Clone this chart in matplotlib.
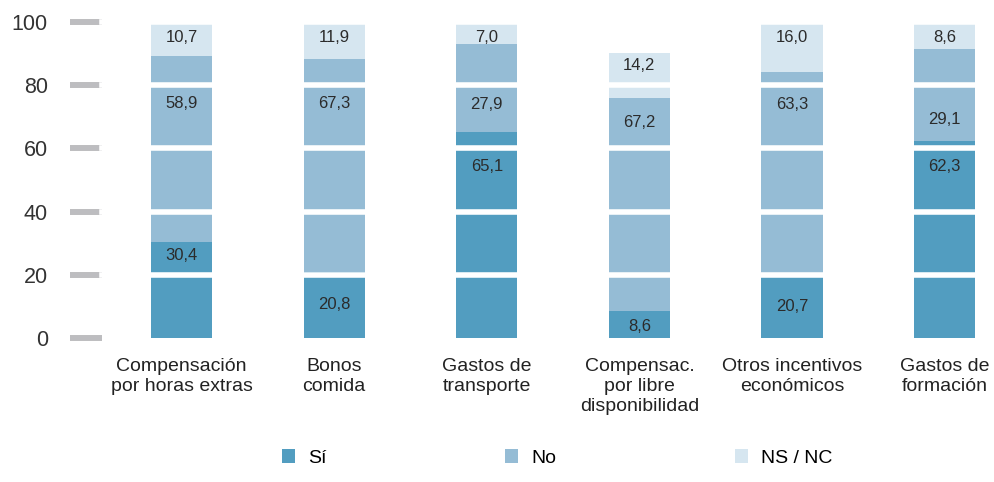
import matplotlib.pyplot as plt
import numpy as np

# Datos
categorias = ['Compensación\npor horas extras', 'Bonos\ncomida', 'Gastos de\ntransporte',
              'Compensac.\npor libre\ndisponibilidad', 'Otros incentivos\neconómicos',
              'Gastos de\nformación']
si = [30.4, 20.8, 65.1, 8.6, 20.7, 62.3]
no = [58.9, 67.3, 27.9, 67.2, 63.3, 29.1]
ns_nc = [10.7, 11.9, 7.0, 14.2, 16.0, 8.6]
series = ['Sí', 'No', 'NS / NC']

# Altura de cada etiqueta dentro de la barra
label_y = [
    [26.0, 10.8, 54.2, 3.6, 10.2, 54.2],
    [74.3, 74.3, 74.0, 68.1, 74.0, 69.2],
    [95.0, 95.0, 95.0, 86.1, 95.0, 95.0],
]

colores = ['#529dc0', '#95bcd5', '#d6e6f0']

plt.rcParams['font.family'] = ['Liberation Sans', 'DejaVu Sans']

fig = plt.figure(figsize=(9.95, 4.82), dpi=100)
ax = fig.add_axes([102 / 995, 143.7 / 482, 1 - 102 / 995, (460.3 - 143.7) / 482])

x = np.arange(len(categorias))
fondo = np.zeros(len(categorias))
for nombre, valores, color, ys in zip(series, [si, no, ns_nc], colores, label_y):
    ax.bar(x, valores, bottom=fondo, width=0.4, color=color, label=nombre, zorder=1)
    for xi, v, yi in zip(x, valores, ys):
        ax.text(xi, yi, f'{v:.1f}'.replace('.', ','), ha='center', va='center',
                fontsize=12, color='#2b2b2b', zorder=3)
    fondo = fondo + np.array(valores)

# Lineas blancas que cortan las barras
for g in [20, 40, 60, 80, 100]:
    ax.axhline(g, color='white', linewidth=4, zorder=2, clip_on=False)

ax.set_xlim(-0.521, 5.33)
ax.set_ylim(0, 100)
ax.set_yticks([0, 20, 40, 60, 80, 100])
ax.tick_params(axis='y', length=23, width=4.3, color='#bdbdc0', pad=16,
               labelsize=15.5, labelcolor='#333333')
ax.set_xticks(x)
ax.set_xticklabels(categorias, fontsize=14, color='#222222', linespacing=1.25)
ax.tick_params(axis='x', length=0, pad=14)
for s in ax.spines.values():
    s.set_visible(False)

fig.legend(loc='center left', bbox_to_anchor=(282 / 995, 1 - 458 / 482), ncol=3,
           frameon=False, fontsize=14, handlelength=0.67, handleheight=0.67,
           handletextpad=0.67, columnspacing=9.2, borderpad=0, borderaxespad=0)

fig.savefig('out.png', dpi=100)
